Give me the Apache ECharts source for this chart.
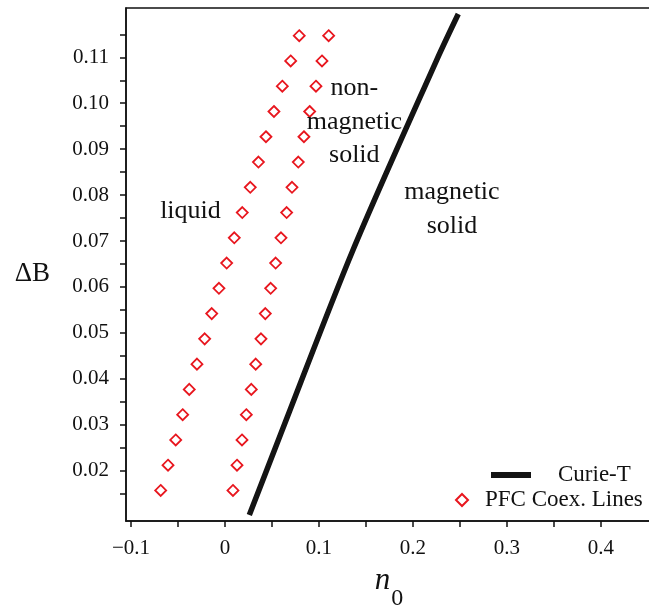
<!DOCTYPE html>
<html lang="en">

<head>
    <meta charset="UTF-8">
    <title>Phase diagram</title>
    <style>
        body {
            margin: 0px;
            padding: 0px;
            background: #ffffff;
        }

        #phase {
            width: 649px;
            height: 610px;
        }
    </style>
</head>

<body>
    <div id="phase"></div>
    <script src="https://cdn.jsdelivr.net/npm/echarts@6/dist/echarts.min.js"></script>
    <script>
        // coexistence lines (PFC), shared y values
        var deltaB = [0.0157, 0.0212, 0.0267, 0.0322, 0.0377, 0.0432, 0.0487, 0.0542, 0.0597, 0.0652,
            0.0707, 0.0762, 0.0817, 0.0872, 0.0927, 0.0982, 0.1037, 0.1092, 0.1147];
        var liquidSide = [-0.0684, -0.0606, -0.0524, -0.0450, -0.0380, -0.0298, -0.0216, -0.0141, -0.0064, 0.0018,
            0.0099, 0.0184, 0.0269, 0.0356, 0.0436, 0.0521, 0.0610, 0.0699, 0.0790];
        var solidSide = [0.0085, 0.0128, 0.0181, 0.0227, 0.0280, 0.0327, 0.0383, 0.0429, 0.0486, 0.0539,
            0.0596, 0.0656, 0.0713, 0.0780, 0.0840, 0.0901, 0.0968, 0.1032, 0.1103];

        // Curie temperature line
        var curieN0 = [0.0259, 0.0596, 0.1362, 0.2252, 0.2482];
        var curieB = [0.01035, 0.02814, 0.06805, 0.10940, 0.11943];

        // tick labels / ticks
        var xLabels = [-0.1, 0, 0.1, 0.2, 0.3, 0.4];
        var xTicks = [-0.1, -0.05, 0, 0.05, 0.1, 0.15, 0.2, 0.25, 0.3, 0.35, 0.4];
        var yLabels = [0.02, 0.03, 0.04, 0.05, 0.06, 0.07, 0.08, 0.09, 0.10, 0.11];
        var yTicks = [0.015, 0.02, 0.025, 0.03, 0.035, 0.04, 0.045, 0.05, 0.055, 0.06, 0.065, 0.07,
            0.075, 0.08, 0.085, 0.09, 0.095, 0.10, 0.105, 0.11, 0.115];

        // region annotations
        var notes = ['liquid', 'non-\nmagnetic\nsolid', 'magnetic\nsolid'];
        var notesX = [-0.0367, 0.1376, 0.2415];
        var notesY = [0.07654, 0.09592, 0.07689];

        var serif = '"Liberation Serif", "Times New Roman", serif';
        var ink = '#111111';

        var pfc = [];
        for (var i = 0; i < deltaB.length; i++) {
            pfc.push([liquidSide[i], deltaB[i]]);
        }
        for (var i = 0; i < deltaB.length; i++) {
            pfc.push([solidSide[i], deltaB[i]]);
        }
        var curie = curieN0.map(function (v, i) { return [v, curieB[i]]; });
        var noteData = notes.map(function (t, i) { return { value: [notesX[i], notesY[i]], name: t }; });

        var chart = echarts.init(document.getElementById('phase'));

        var option = {
            animation: false,
            grid: {
                left: 126,
                top: 8,
                right: -3,
                bottom: 89,
                outerBoundsMode: 'none',
                show: true,
                borderColor: ink,
                borderWidth: 1.5
            },
            legend: [{
                data: ['Curie-T'],
                left: 491,
                top: 463,
                padding: 0,
                icon: 'rect',
                itemWidth: 40,
                itemHeight: 6,
                textStyle: { fontFamily: serif, fontSize: 23, color: ink, lineHeight: 24, padding: [0, 0, 0, 22] }
            }, {
                data: ['PFC Coex. Lines'],
                left: 455,
                top: 488,
                padding: 0,
                itemWidth: 12,
                itemHeight: 12,
                textStyle: { fontFamily: serif, fontSize: 23, color: ink, lineHeight: 24, padding: [0, 0, 0, 12] }
            }],
            xAxis: {
                type: 'value',
                min: -0.1053,
                max: 0.4543,
                name: '{n|n}{s|0}',
                nameLocation: 'middle',
                nameGap: 44,
                nameTextStyle: {
                    rich: {
                        n: { fontFamily: serif, fontStyle: 'italic', fontSize: 31, color: ink, lineHeight: 30, verticalAlign: 'top' },
                        s: { fontFamily: serif, fontSize: 24, color: ink, lineHeight: 24, padding: [22, 0, 0, 1], verticalAlign: 'top' }
                    }
                },
                splitLine: { show: false },
                axisLine: { show: true, onZero: false, lineStyle: { color: ink, width: 1.5 } },
                axisTick: { show: true, customValues: xTicks, length: 6, lineStyle: { color: ink, width: 1.5 } },
                axisLabel: {
                    customValues: xLabels,
                    margin: 17,
                    fontFamily: serif,
                    fontSize: 21,
                    color: ink,
                    formatter: function (v) {
                        if (Math.abs(v) < 1e-9) return '0';
                        return v.toFixed(1).replace('-', '\u2212');
                    }
                }
            },
            yAxis: {
                type: 'value',
                min: 0.00905,
                max: 0.12073,
                name: '\u0394B',
                nameLocation: 'middle',
                nameRotate: 0,
                nameGap: 76,
                nameTextStyle: { fontFamily: serif, fontSize: 27, color: ink, lineHeight: 18, verticalAlign: 'top' },
                splitLine: { show: false },
                axisLine: { show: true, onZero: false, lineStyle: { color: ink, width: 1.5 } },
                axisTick: { show: true, customValues: yTicks, length: 6, lineStyle: { color: ink, width: 1.5 } },
                axisLabel: {
                    customValues: yLabels,
                    margin: 17,
                    fontFamily: serif,
                    fontSize: 21,
                    color: ink,
                    formatter: function (v) {
                        return v.toFixed(2);
                    }
                }
            },
            series: [{
                name: 'Curie-T',
                type: 'line',
                data: curie,
                smooth: 0.3,
                showSymbol: false,
                color: '#141414',
                lineStyle: { width: 5.5, color: '#141414' },
                z: 3
            }, {
                name: 'PFC Coex. Lines',
                type: 'scatter',
                data: pfc,
                symbol: 'diamond',
                symbolSize: 11,
                itemStyle: { color: '#ffffff', borderColor: '#e8161e', borderWidth: 1.8, opacity: 1 },
                z: 4
            }, {
                name: 'notes',
                type: 'scatter',
                data: noteData,
                symbolSize: 0,
                silent: true,
                itemStyle: { opacity: 1 },
                label: {
                    show: true,
                    position: 'inside',
                    formatter: '{b}',
                    fontFamily: serif,
                    fontSize: 26,
                    lineHeight: 33.5,
                    color: ink,
                    align: 'center'
                },
                z: 5
            }]
        };

        chart.setOption(option);
    </script>
</body>

</html>
